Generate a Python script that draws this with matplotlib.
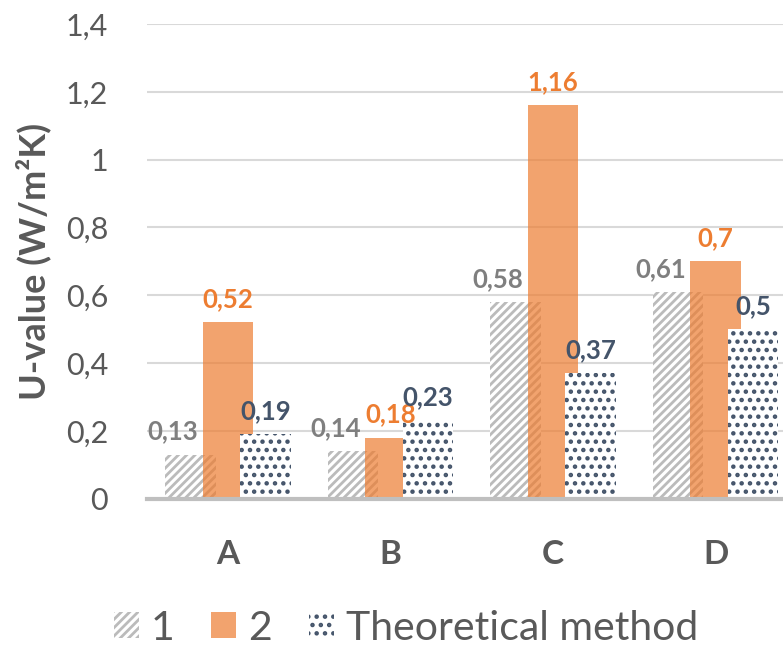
import matplotlib.pyplot as plt
import numpy as np

plt.rcParams['font.family'] = ['Lato', 'DejaVu Sans']
plt.rcParams['hatch.linewidth'] = 2.0

categories = ["A", "B", "C", "D"]
series_names = ["1", "2", "Theoretical method"]
values_1 = [0.13, 0.14, 0.58, 0.61]
values_2 = [0.52, 0.18, 1.16, 0.70]
values_theory = [0.19, 0.23, 0.37, 0.50]
y_ticks = [0, 0.2, 0.4, 0.6, 0.8, 1.0, 1.2, 1.4]

TEXT = "#595959"
GREY = "#7F7F7F"
ORANGE = "#ED7D31"
SLATE = "#44546A"


def fmt(v):
    # comma decimal separator, no trailing zeros
    s = f"{v:.2f}".rstrip("0").rstrip(".")
    return s.replace(".", ",")


fig = plt.figure(figsize=(7.83, 6.46), dpi=100)
ax = fig.add_axes([147 / 783, 147.4 / 646, 1 - 147 / 783, (498.6 - 24) / 646])

x = np.arange(len(categories))
width = 0.31
step = 0.23

b1 = ax.bar(x - step, values_1, width, color="white", edgecolor="#BBBBBB",
            hatch="////", linewidth=0, zorder=2, label=series_names[0])
b2 = ax.bar(x, values_2, width, color=ORANGE, alpha=0.7, linewidth=0,
            zorder=3, label=series_names[1])
b3 = ax.bar(x + step, values_theory, width, color="white", edgecolor=SLATE,
            hatch="..", linewidth=0, zorder=4, label=series_names[2])

# value labels above each bar
for xs, vals, col, dx in [(x - step, values_1, GREY, -0.11),
                          (x, values_2, ORANGE, 0.0),
                          (x + step, values_theory, SLATE, 0.0)]:
    for xi, v in zip(xs, vals):
        ax.annotate(fmt(v), (xi + dx, v), xytext=(0, 8), textcoords="offset points",
                    ha="center", va="bottom", fontsize=18.5, fontweight="bold",
                    color=col, zorder=5)

ax.set_xlim(-0.498, 3.415)
ax.set_ylim(0, 1.4)
ax.set_yticks(y_ticks)
ax.set_yticklabels([fmt(t) for t in y_ticks])
ax.set_xticks(x)
ax.set_xticklabels(categories, fontweight="bold")
ax.tick_params(axis="y", length=0, pad=28, labelsize=22, labelcolor=TEXT)
ax.tick_params(axis="x", length=0, pad=30, labelsize=24, labelcolor=TEXT)

ax.grid(axis="y", color="#D9D9D9", linewidth=1.5, zorder=0)
ax.set_axisbelow(True)
for side in ["top", "right", "left"]:
    ax.spines[side].set_visible(False)
ax.spines["bottom"].set_color("#BFBFBF")
ax.spines["bottom"].set_linewidth(3)
ax.spines["bottom"].set_zorder(6)

ax.set_ylabel("U-value (W/m²K)", fontsize=26, fontweight="bold", color=TEXT)
ax.yaxis.set_label_coords(-(147 - 51) / 636, 0.5)

fig.legend(handles=[b1, b2, b3], loc="center", bbox_to_anchor=(406 / 783, 18 / 646),
           ncol=3, frameon=False, fontsize=29.5, labelcolor=TEXT,
           handlelength=0.6, handleheight=0.6, handletextpad=0.3, columnspacing=0.9)

fig.savefig("out.png", dpi=100)
